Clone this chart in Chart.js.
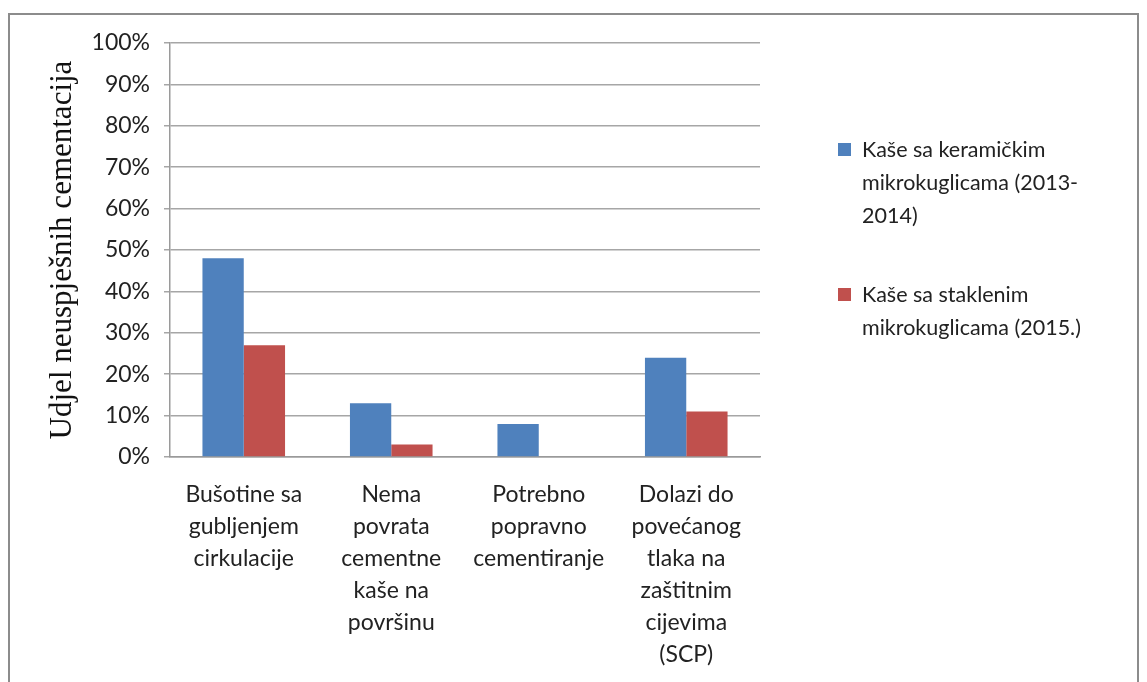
<!DOCTYPE html>
<html>
<head>
<meta charset="utf-8">
<script src="https://cdn.jsdelivr.net/npm/chart.js@4"></script>
<style>
  html, body { margin: 0; padding: 0; background: #fff; }
  #wrap { position: relative; width: 1147px; height: 682px; overflow: hidden; }
  #frame { position: absolute; left: 8px; top: 13px; width: 1131px; height: 700px;
           border: 2px solid #8c8c8c; box-sizing: border-box; }
  canvas { position: absolute; left: 0; top: 0; }
  #legend { position: absolute; left: 838px; top: 133px; font-family: Lato, sans-serif;
            font-size: 21.5px; line-height: 33px; color: #222; }
  .item { position: relative; padding-left: 24px; }
  .item + .item { margin-top: 46px; }
  .box { position: absolute; left: 0; top: 10px; width: 13px; height: 13px; }
</style>
</head>
<body>
<div id="wrap">
  <div id="frame"></div>
  <canvas id="chart" width="1147" height="682"></canvas>
  <div id="legend"></div>
</div>
<script>
// ==========================
// Udjel neuspješnih cementacija
// ==========================

const categories = [
    ["Bušotine sa", "gubljenjem", "cirkulacije"],
    ["Nema", "povrata", "cementne", "kaše na", "površinu"],
    ["Potrebno", "popravno", "cementiranje"],
    ["Dolazi do", "povećanog", "tlaka na", "zaštitnim", "cijevima", "(SCP)"]
];

const seriesNames = [
    ["Kaše sa keramičkim", "mikrokuglicama (2013-", "2014)"],
    ["Kaše sa staklenim", "mikrokuglicama (2015.)"]
];

const ceramic = [48, 13, 8, 24];
const glass = [27, 3, 0, 11];

const colors = ["#4F81BD", "#C0504D"];

const yTicks = [0, 10, 20, 30, 40, 50, 60, 70, 80, 90, 100];


// legend with wrapped text
const legendBox = document.getElementById("legend");
seriesNames.forEach((lines, i) => {
    const item = document.createElement("div");
    item.className = "item";
    item.innerHTML = '<span class="box" style="background:' + colors[i] + '"></span>' +
        lines.join("<br>");
    legendBox.appendChild(item);
});


new Chart(
    document.getElementById("chart"),
    {
        type: "bar",

        data: {
            labels: categories,
            datasets: [
                { label: seriesNames[0].join(" "), data: ceramic, backgroundColor: colors[0] },
                { label: seriesNames[1].join(" "), data: glass, backgroundColor: colors[1] }
            ]
        },

        options: {
            responsive: false,
            animation: false,
            layout: { padding: { left: 40, top: 43, right: 387, bottom: 0 } },
            datasets: {
                bar: { categoryPercentage: 0.56, barPercentage: 1 }
            },
            plugins: {
                legend: { display: false },
                tooltip: { enabled: false }
            },
            scales: {
                x: {
                    grid: { display: false },
                    border: { color: "#9a9a9a", width: 1.5 },
                    ticks: {
                        color: "#222",
                        font: { family: "Lato", size: 23, lineHeight: 32 / 23 },
                        maxRotation: 0,
                        autoSkip: false,
                        padding: 14
                    },
                    afterFit: s => { s.height = 225; }
                },
                y: {
                    min: 0,
                    max: 100,
                    afterBuildTicks: s => { s.ticks = yTicks.map(v => ({ value: v })); },
                    grid: { color: "#a6a6a6", lineWidth: 1.5, tickLength: 6 },
                    border: { color: "#9a9a9a", width: 1.5 },
                    ticks: {
                        color: "#222",
                        font: { family: "Lato", size: 23 },
                        padding: 14,
                        callback: v => v + "%"
                    },
                    title: {
                        display: true,
                        text: "Udjel neuspješnih cementacija",
                        color: "#111",
                        font: { family: "Liberation Serif", size: 31 },
                        padding: 4
                    },
                    afterFit: s => { s.width = 130; }
                }
            }
        }
    }
);
</script>
</body>
</html>
